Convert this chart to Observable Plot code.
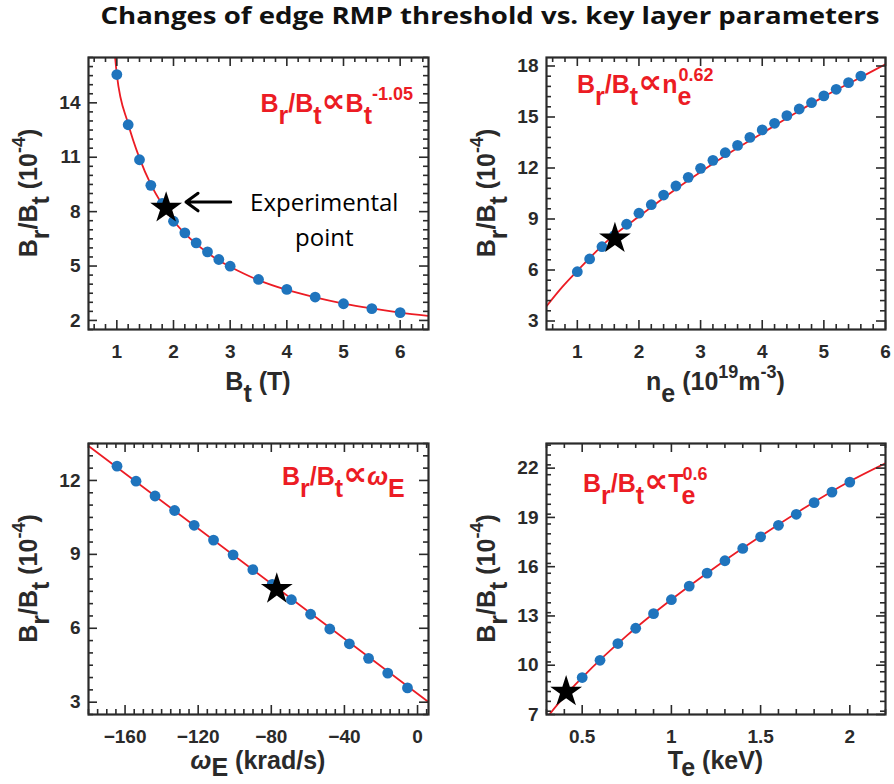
<!DOCTYPE html>
<html><head><meta charset="utf-8">
<script src="https://cdn.jsdelivr.net/npm/d3@7"></script>
<script src="https://cdn.jsdelivr.net/npm/@observablehq/plot@0.6"></script>
<style>
body{margin:0;background:#fff;}
#root{position:relative;width:894px;height:784px;overflow:hidden;background:#fff;}
#root > svg{position:absolute;overflow:visible;}
</style></head><body><div id="root"></div>
<script>
// ---------------- DATA ----------------
// Panel 1: Br/Bt vs Bt
const btX      = [1.0, 1.2, 1.4, 1.6, 1.8, 2.0, 2.2, 2.4, 2.6, 2.8, 3.0, 3.5, 4.0, 4.5, 5.0, 5.5, 6.0];
const btY      = [15.56, 12.79, 10.86, 9.45, 8.45, 7.47, 6.83, 6.28, 5.78, 5.36, 4.99, 4.26, 3.71, 3.29, 2.92, 2.65, 2.43];
const btFitX   = [0.97, 1.0, 1.2, 1.4, 1.6, 1.8, 2.0, 2.2, 2.4, 2.6, 2.8, 3.0, 3.5, 4.0, 4.5, 5.0, 5.5, 6.0, 6.5];
const btFitY   = [16.5, 15.56, 12.85, 10.95, 9.5, 8.4, 7.5, 6.8, 6.22, 5.73, 5.3, 4.96, 4.22, 3.68, 3.27, 2.93, 2.66, 2.43, 2.25];
const btStar   = {x: 1.87, y: 8.2};
const btXTicks = [1, 2, 3, 4, 5, 6];
const btYTicks = [2, 5, 8, 11, 14];

// Panel 2: Br/Bt vs ne
const neX      = [1.0, 1.2, 1.4, 1.6, 1.8, 2.0, 2.2, 2.4, 2.6, 2.8, 3.0, 3.2, 3.4, 3.6, 3.8, 4.0, 4.2, 4.4, 4.6, 4.8, 5.0, 5.2, 5.4, 5.6];
const neY      = [5.9, 6.65, 7.37, 8.02, 8.69, 9.34, 9.84, 10.41, 10.94, 11.45, 11.98, 12.45, 12.9, 13.33, 13.8, 14.24, 14.63, 15.08, 15.47, 15.84, 16.24, 16.63, 17.02, 17.41];
const neFitX   = [0.5, 0.75, 1.0, 1.5, 2.0, 2.5, 3.0, 3.5, 4.0, 4.5, 5.0, 5.5, 6.0];
const neFitY   = [3.87, 4.98, 5.95, 7.76, 9.15, 10.5, 11.76, 12.95, 14.05, 15.15, 16.2, 17.15, 18.1];
const neStar   = {x: 1.61, y: 7.85};
const neXTicks = [1, 2, 3, 4, 5, 6];
const neYTicks = [3, 6, 9, 12, 15, 18];

// Panel 3: Br/Bt vs omega_E
const wX       = [-164.4, -154, -143.6, -132.9, -122.2, -111.6, -100.9, -90.1, -79.5, -69, -58.5, -48, -37.3, -26.8, -16.3, -5.5];
const wY       = [12.58, 11.97, 11.37, 10.78, 10.18, 9.58, 8.98, 8.38, 7.78, 7.16, 6.57, 5.97, 5.37, 4.78, 4.18, 3.58];
const wFitX    = [-180, 6];
const wFitY    = [13.4, 3.01];
const wStar    = {x: -77, y: 7.59};
const wXTicks  = [-160, -120, -80, -40, 0];
const wYTicks  = [3, 6, 9, 12];

// Panel 4: Br/Bt vs Te
const teX      = [0.5, 0.6, 0.7, 0.8, 0.9, 1.0, 1.1, 1.2, 1.3, 1.4, 1.5, 1.6, 1.7, 1.8, 1.9, 2.0];
const teY      = [9.25, 10.3, 11.32, 12.25, 13.14, 13.99, 14.82, 15.61, 16.36, 17.11, 17.82, 18.52, 19.19, 19.9, 20.54, 21.15];
const teFitX   = [0.32, 0.4, 0.5, 0.75, 1.0, 1.25, 1.5, 1.75, 2.0, 2.2];
const teFitY   = [7.05, 8.1, 9.25, 11.8, 14.0, 16.0, 17.85, 19.6, 21.2, 22.3];
const teStar   = {x: 0.41, y: 8.38};
const teXTicks = [0.5, 1, 1.5, 2];
const teYTicks = [7, 10, 13, 16, 19, 22];

// Annotation (panel 1)
const annArrow = [{x1: 3.01, y1: 8.53, x2: 2.22, y2: 8.53}];
const annText  = [{x: 4.66, y: 7.67, text: "Experimental\npoint"}];

const titleText = "Changes of edge RMP threshold vs. key layer parameters";

// ---------------- STYLE ----------------
const FRAME = "#2a2a2a", BLUE = "#1f74bd", RED = "#ec1c24", TXT = "#2a2a2a";
const SANS = "'Liberation Sans', Arial, Helvetica, sans-serif";
const zip = (xs, ys) => xs.map((x, i) => ({x, y: ys[i]}));

function minorTicks(domain, step, majors) {
  const lo = Math.ceil(domain[0] / step - 1e-9), hi = Math.floor(domain[1] / step + 1e-9);
  const out = [];
  for (let k = lo; k <= hi; k++) {
    const v = +(k * step).toFixed(6);
    if (!majors.some(m => Math.abs(m - v) < 1e-6)) out.push(v);
  }
  return out;
}

const root = document.getElementById("root");

function rich(svg, o) {
  const {x, y, anchor = "start", size = 25, fill = TXT, rotate = false, parts,
         family = SANS, weight = "bold", subDy = 12, supDy = 12, supSize = 18} = o;
  const t = d3.select(svg).append("text")
    .attr("font-family", family).attr("font-weight", weight)
    .attr("font-size", size).attr("fill", fill).attr("text-anchor", anchor)
    .style("white-space", "pre");
  if (rotate) t.attr("transform", `translate(${x},${y}) rotate(-90)`);
  else t.attr("x", x).attr("y", y);
  let level = 0, lastSub = null;
  for (const [s, kind = "n", style] of parts) {
    const target = kind === "sub" ? subDy : (kind === "sup" || kind === "supOver") ? -supDy : 0;
    const ts = t.append("tspan").text(s);
    if (target - level !== 0) ts.attr("dy", target - level);
    level = target;
    if (kind === "sup" || kind === "supOver") ts.attr("font-size", supSize);
    if (style === "italic") ts.attr("font-style", "italic");
    if (style === "prop") ts.attr("font-family", "'DejaVu Sans', sans-serif").attr("font-size", size * 1.35);
    if (kind === "supOver" && lastSub) ts.attr("dx", -lastSub.node().getComputedTextLength() + 1);
    lastSub = kind === "sub" ? ts : null;
  }
  return t;
}

function panel(cfg) {
  const {left, top, width, height, mL, mR, mT, mB, xDomain, yDomain,
         xMajor, yMajor, xStep, yStep, xFmt, dots, line, star, extra = []} = cfg;
  const W = width - mL - mR, H = height - mT - mB;
  const xMinor = minorTicks(xDomain, xStep, xMajor);
  const yMinor = minorTicks(yDomain, yStep, yMajor);
  const tk = {stroke: FRAME, strokeWidth: 1.6};
  const svg = Plot.plot({
    width, height, marginLeft: mL, marginRight: mR, marginTop: mT, marginBottom: mB,
    x: {domain: xDomain, axis: null}, y: {domain: yDomain, axis: null},
    style: {fontFamily: SANS, background: "transparent", overflow: "visible"},
    marks: [
      Plot.line(line, {x: "x", y: "y", stroke: RED, strokeWidth: 1.8, curve: "monotone-x", clip: true}),
      Plot.dot(dots, {x: "x", y: "y", r: 5.4, fill: BLUE}),
      ...extra,
      Plot.dot([star], {x: "x", y: "y", r: 10, symbol: "star", fill: "black"}),
      Plot.ruleX(xMinor, {...tk, insetTop: H - 5}),
      Plot.ruleX(xMinor, {...tk, insetBottom: H - 5}),
      Plot.ruleX(xMajor, {...tk, insetTop: H - 9}),
      Plot.ruleX(xMajor, {...tk, insetBottom: H - 9}),
      Plot.ruleY(yMinor, {...tk, insetRight: W - 5}),
      Plot.ruleY(yMinor, {...tk, insetLeft: W - 5}),
      Plot.ruleY(yMajor, {...tk, insetRight: W - 9}),
      Plot.ruleY(yMajor, {...tk, insetLeft: W - 9}),
      Plot.axisX(xMajor, {tickSize: 0, tickPadding: 14.5, tickFormat: xFmt, fontSize: 19, fontWeight: "bold", color: TXT, label: null}),
      Plot.axisY(yMajor, {tickSize: 0, tickPadding: 8, fontSize: 19, fontWeight: "bold", color: TXT, label: null}),
      Plot.frame({stroke: FRAME, strokeWidth: 2.2})
    ]
  });
  svg.style.left = left + "px";
  svg.style.top = top + "px";
  root.appendChild(svg);
  // axis labels
  rich(svg, {x: mL + W / 2, y: mT + H + (cfg.xLabelDy || 61), anchor: "middle", parts: cfg.xLabel, subDy: cfg.xSubDy || 12});
  rich(svg, {x: mL - 51, y: mT + H / 2, anchor: "middle", rotate: true, parts: cfg.yLabel});
  // red law
  rich(svg, {...cfg.law, fill: RED, size: 25, supSize: 18, subDy: 12, supDy: 12});
  return svg;
}

const yLabel = [["B"], ["r", "sub"], ["/B"], ["t", "sub"], [" (10"], ["-4", "sup"], [")"]];

// title
{
  const s = d3.create("svg").attr("width", 894).attr("height", 40).style("left", "0px").style("top", "0px");
  s.append("text").attr("x", 490).attr("y", 24).attr("text-anchor", "middle")
    .attr("font-family", "'Open Sans', sans-serif").attr("font-weight", "bold").attr("font-size", 23)
    .attr("fill", "#111").attr("textLength", 779).attr("lengthAdjust", "spacingAndGlyphs").text(titleText);
  root.appendChild(s.node());
}

panel({
  left: 0, top: 40, width: 447, height: 380, mL: 88, mR: 19, mT: 17, mB: 91,
  xDomain: [0.5, 6.5], yDomain: [1.5, 16.5], xMajor: btXTicks, yMajor: btYTicks, xStep: 0.2, yStep: 0.5,
  dots: zip(btX, btY), line: zip(btFitX, btFitY), star: btStar,
  extra: [
    Plot.arrow(annArrow, {x1: "x1", y1: "y1", x2: "x2", y2: "y2", stroke: "black", strokeWidth: 3, headLength: 14, headAngle: 72}),
    Plot.text(annText, {x: "x", y: "y", text: "text", fontFamily: "'Open Sans', sans-serif", fontSize: 24, lineHeight: 1.45, fill: "black", textAnchor: "middle"})
  ],
  xLabel: [["B"], ["t", "sub"], [" (T)"]],
  yLabel,
  law: {x: 413, y: 72, anchor: "end", parts: [["B"], ["r", "sub"], ["/B"], ["t", "sub"], ["\u221D", "n", "prop"], ["B"], ["t", "sub"], ["-1.05", "sup"]]}
});

panel({
  left: 447, top: 40, width: 447, height: 380, mL: 99, mR: 9, mT: 17, mB: 91,
  xDomain: [0.5, 6], yDomain: [2.5, 18.5], xMajor: neXTicks, yMajor: neYTicks, xStep: 0.2, yStep: 0.6,
  dots: zip(neX, neY), line: zip(neFitX, neFitY), star: neStar,
  xLabel: [["n"], ["e", "sub"], [" (10"], ["19", "sup"], ["m"], ["-3", "sup"], [")"]],
  yLabel,
  law: {x: 130, y: 53, parts: [["B"], ["r", "sub"], ["/B"], ["t", "sub"], ["\u221D", "n", "prop"], ["n"], ["e", "sub"], ["0.62", "supOver"]]}
});

panel({
  left: 0, top: 420, width: 447, height: 364, mL: 88, mR: 19, mT: 23, mB: 70,
  xDomain: [-180, 6], yDomain: [2.5, 13.5], xMajor: wXTicks, yMajor: wYTicks, xStep: 5, yStep: 0.5,
  dots: zip(wX, wY), line: zip(wFitX, wFitY), star: wStar,
  xLabel: [["\u03C9", "n", "italic"], ["E", "sub"], [" (krad/s)"]], xLabelDy: 55, xSubDy: 7,
  yLabel,
  law: {x: 282, y: 65, parts: [["B"], ["r", "sub"], ["/B"], ["t", "sub"], ["\u221D", "n", "prop"], ["\u03C9", "n", "italic"], ["E", "sub"]]}
});

panel({
  left: 447, top: 420, width: 447, height: 364, mL: 99, mR: 9, mT: 23, mB: 70,
  xDomain: [0.3, 2.2], yDomain: [7, 23.5], xMajor: teXTicks, yMajor: teYTicks, xStep: 0.1, yStep: 0.6,
  xFmt: d => String(d),
  dots: zip(teX, teY), line: zip(teFitX, teFitY), star: teStar,
  xLabel: [["T"], ["e", "sub"], [" (keV)"]], xLabelDy: 55, xSubDy: 7,
  yLabel,
  law: {x: 136, y: 72, parts: [["B"], ["r", "sub"], ["/B"], ["t", "sub"], ["\u221D", "n", "prop"], ["T"], ["e", "sub"], ["0.6", "supOver"]]}
});
</script></body></html>
